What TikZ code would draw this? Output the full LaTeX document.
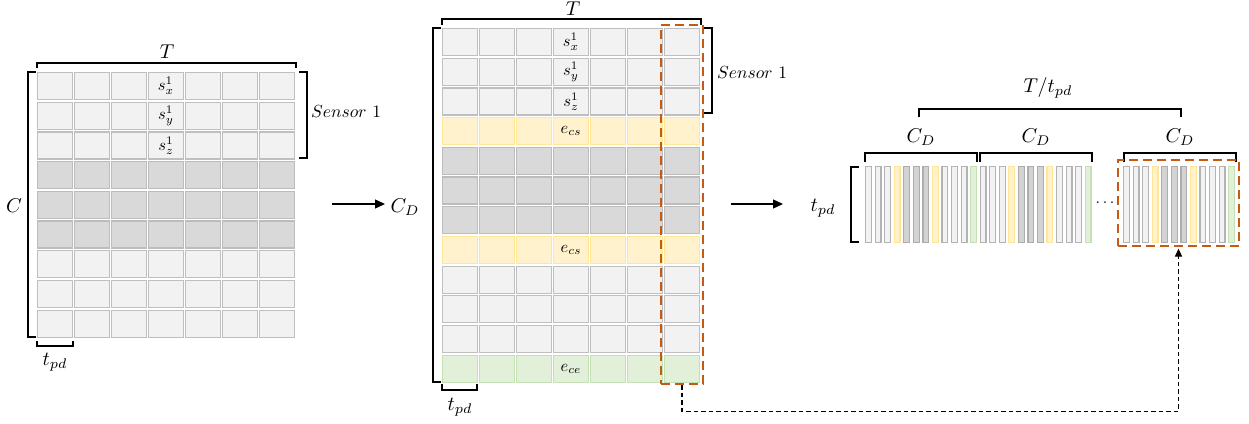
\documentclass[tikz,border=0pt]{standalone}
\usetikzlibrary{arrows.meta}
\definecolor{cL}{HTML}{F2F2F2}
\definecolor{cLb}{HTML}{BFBFBF}
\definecolor{cG}{HTML}{D9D9D9}
\definecolor{cGb}{HTML}{BCBCBC}
\definecolor{cY}{HTML}{FFF2CC}
\definecolor{cYb}{HTML}{FFE699}
\definecolor{cN}{HTML}{E2F0D9}
\definecolor{cNb}{HTML}{C5E0B4}
\definecolor{cBarLb}{HTML}{B3B3B3}
\definecolor{cBarG}{HTML}{D3D3D3}
\definecolor{cBarGb}{HTML}{ADADAD}
\definecolor{cOr}{HTML}{C55A11}
\newcommand\LblT[1]{\scalebox{2}{$#1$}}
\newcommand\SensT{\scalebox{1.75}{$Sensor\ 1$}}
\newcommand\CellT[1]{\scalebox{1.65}{$#1$}}
\begin{document}
\begin{tikzpicture}[x=1pt,y=-1pt,
  cell/.style={rectangle, inner sep=0pt, minimum width=34.5pt, minimum height=27pt, line width=1.2pt},
  bar/.style={rectangle, inner sep=0pt, minimum width=5.8pt, minimum height=76pt, line width=1.2pt},
  brk/.style={line width=1.4pt, black},
  lbl/.style={inner sep=0pt},
  sens/.style={inner sep=0pt, anchor=west},
  orng/.style={rectangle, inner sep=0pt, draw=cOr, line width=2.2pt, dash pattern=on 9pt off 5pt},
  flow/.style={line width=1.3pt, -{Triangle[length=10pt,width=9pt]}}
]
\useasboundingbox (0,0) rectangle (1249,423);

% ---------- left grid ----------
\foreach \j/\fc/\dc/\tx in {0/cL/cLb/{\CellT{s_x^1}},1/cL/cLb/{\CellT{s_y^1}},2/cL/cLb/{\CellT{s_z^1}},3/cG/cGb/{},4/cG/cGb/{},5/cG/cGb/{},6/cL/cLb/{},7/cL/cLb/{},8/cL/cLb/{}}
  \foreach \i in {0,...,6}
    \node[cell, fill=\fc, draw=\dc] (L-\j-\i) at ({55+37*\i},{86+29.7*\j}) {\ifnum\i=3 \tx\fi};

\draw[brk] (37,68) -- (37,63) -- (296,63) -- (296,68);
\draw[brk] (36,72) -- (28,72) -- (28,337) -- (36,337);
\draw[brk] (299,72) -- (307,72) -- (307,158) -- (299,158);
\draw[brk] (37,341) -- (37,346) -- (73,346) -- (73,341);
\node[lbl] (tL) at (167,52) {\LblT{T}};
\node[lbl] (cL) at (14,206) {\LblT{C}};
\node[sens] (sL) at (311,112) {\SensT};
\node[lbl] (tpL) at (55,362) {\LblT{t_{pd}}};

% ---------- middle grid ----------
\foreach \j/\fc/\dc/\tx in {0/cL/cLb/{\CellT{s_x^1}},1/cL/cLb/{\CellT{s_y^1}},2/cL/cLb/{\CellT{s_z^1}},3/cY/cYb/{\CellT{e_{cs}}},4/cG/cGb/{},5/cG/cGb/{},6/cG/cGb/{},7/cY/cYb/{\CellT{e_{cs}}},8/cL/cLb/{},9/cL/cLb/{},10/cL/cLb/{},11/cN/cNb/{\CellT{e_{ce}}}}
  \foreach \i in {0,...,6}
    \node[cell, fill=\fc, draw=\dc] (M-\j-\i) at ({460+37*\i},{42+29.7*\j}) {\ifnum\i=3 \tx\fi};

\draw[brk] (442,25) -- (442,19) -- (701,19) -- (701,25);
\draw[brk] (441,28) -- (433,28) -- (433,382) -- (441,382);
\draw[brk] (703,28) -- (712,28) -- (712,113) -- (703,113);
\draw[brk] (442,384) -- (442,390) -- (477,390) -- (477,384);
\node[lbl] (tM) at (573,9) {\LblT{T}};
\node[lbl] (cM) at (405,207) {\LblT{C_D}};
\node[sens] (sM) at (717,73) {\SensT};
\node[lbl] (tpM) at (460,407) {\LblT{t_{pd}}};

\node[orng, minimum width=42pt, minimum height=359pt] (O1) at (682,204.5) {};

% ---------- right bars ----------
\foreach \g/\s in {0/868.5,1/983.1,2/1126.5}
  \foreach \k/\fc/\dc in {0/cL/cBarLb,1/cL/cBarLb,2/cL/cBarLb,3/cY/cYb,4/cBarG/cBarGb,5/cBarG/cBarGb,6/cBarG/cBarGb,7/cY/cYb,8/cL/cBarLb,9/cL/cBarLb,10/cL/cBarLb,11/cN/cNb}
    \node[bar, fill=\fc, draw=\dc] (B-\g-\k) at ({\s+9.55*\k},204.5) {};

\draw[brk] (919,117) -- (919,109) -- (1181,109) -- (1181,117);
\draw[brk] (865,162) -- (865,153) -- (977,153) -- (977,162);
\draw[brk] (980,162) -- (980,153) -- (1092,153) -- (1092,162);
\draw[brk] (1124,162) -- (1124,153) -- (1236,153) -- (1236,162);
\draw[brk] (859,167) -- (851,167) -- (851,242) -- (859,242);
\node[lbl] (tR) at (1048,88) {\LblT{T/t_{pd}}};
\node[lbl] (cR1) at (921,137) {\LblT{C_D}};
\node[lbl] (cR2) at (1036,137) {\LblT{C_D}};
\node[lbl] (cR3) at (1180,137) {\LblT{C_D}};
\node[lbl] (tpR) at (823,208) {\LblT{t_{pd}}};
\node[lbl] (dots) at (1105,203) {\scalebox{1.6}{$\dots$}};

\node[orng, minimum width=121pt, minimum height=86pt] (O2) at (1178.5,203) {};

% ---------- arrows ----------
\coordinate (A1s) at (332,204);
\coordinate (A1e) at (385,204);
\coordinate (A2s) at (731,204);
\coordinate (A2e) at (783,204);
\draw[flow] (A1s) -- (A1e);
\draw[flow] (A2s) -- (A2e);

\draw[line width=1.2pt, dash pattern=on 4.5pt off 3pt, shorten >=1.5pt,
      -{Triangle[length=8pt,width=7pt]}] (O1.south) -- ++(0,26) -| (O2.south);
\end{tikzpicture}
\end{document}
